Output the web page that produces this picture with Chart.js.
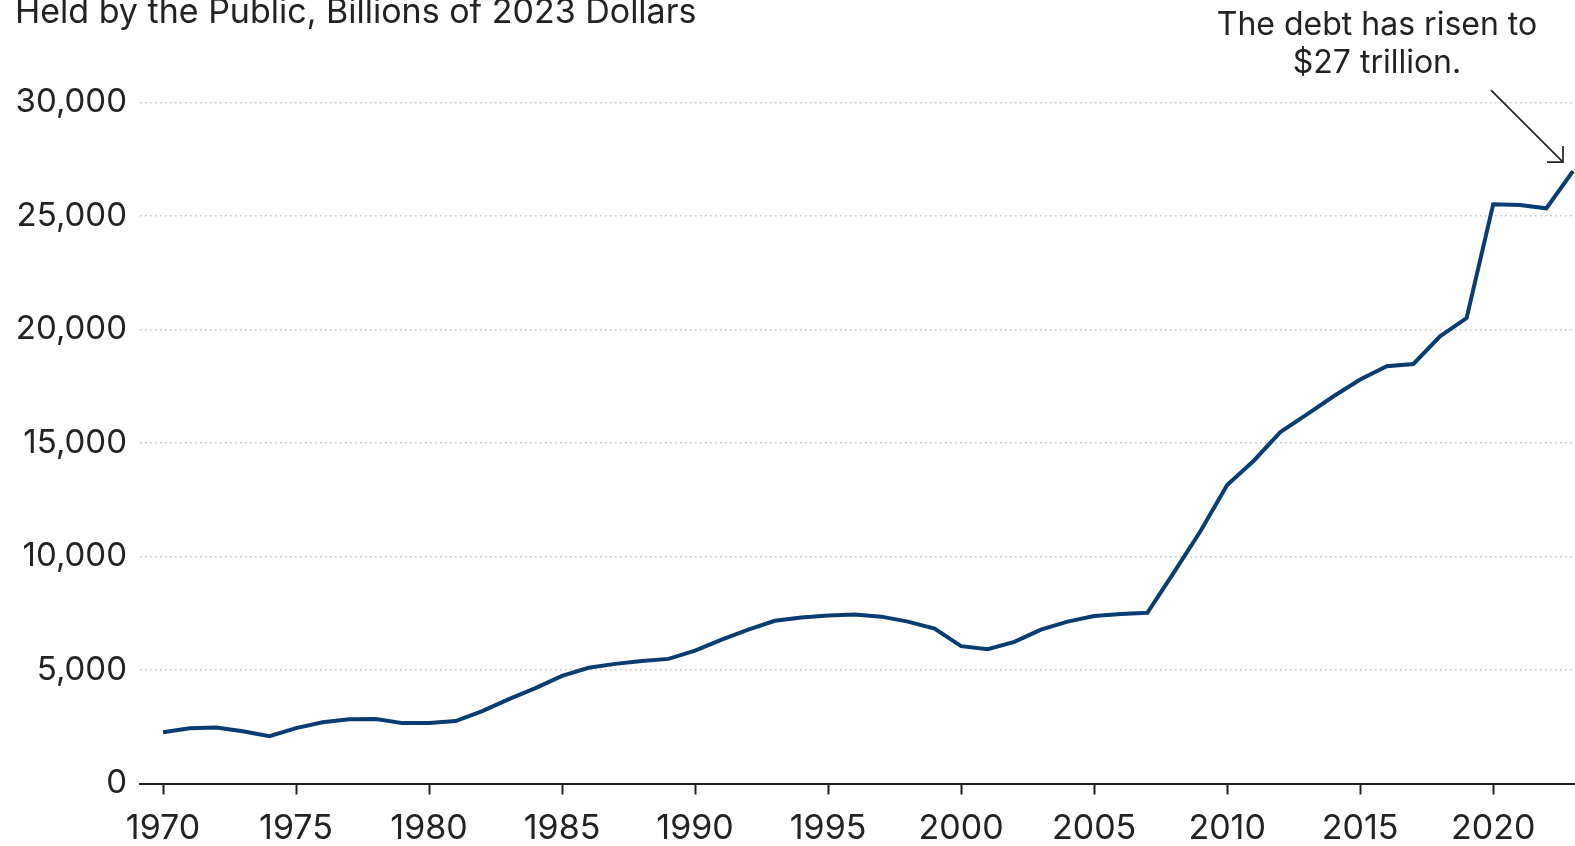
<!DOCTYPE html>
<html>
<head>
<meta charset="utf-8">
<script src="https://cdn.jsdelivr.net/npm/chart.js@4.4.0/dist/chart.umd.min.js"></script>
<style>
  html, body { margin: 0; padding: 0; background: #fff; }
  #wrap { width: 1575px; height: 846px; position: relative; }
</style>
</head>
<body>
<div id="wrap"><canvas id="debtChart"></canvas></div>
<script>
// годы и долг (млрд долларов 2023 г.)
const years = [1970, 1971, 1972, 1973, 1974, 1975, 1976, 1977, 1978, 1979,
    1980, 1981, 1982, 1983, 1984, 1985, 1986, 1987, 1988, 1989,
    1990, 1991, 1992, 1993, 1994, 1995, 1996, 1997, 1998, 1999,
    2000, 2001, 2002, 2003, 2004, 2005, 2006, 2007, 2008, 2009,
    2010, 2011, 2012, 2013, 2014, 2015, 2016, 2017, 2018, 2019,
    2020, 2021, 2022, 2023];
const debt = [2260, 2430, 2470, 2300, 2080, 2440, 2700, 2830, 2840, 2660,
    2660, 2750, 3190, 3720, 4200, 4740, 5100, 5270, 5400, 5490,
    5850, 6340, 6780, 7170, 7310, 7400, 7440, 7350, 7130, 6820,
    6050, 5920, 6240, 6780, 7130, 7380, 7470, 7520, 9300, 11120,
    13150, 14220, 15480, 16260, 17060, 17800, 18380, 18480, 19700, 20500,
    25520, 25480, 25340, 26980];
const xTicks = [1970, 1975, 1980, 1985, 1990, 1995, 2000, 2005, 2010, 2015, 2020];
const yTicks = [0, 5000, 10000, 15000, 20000, 25000, 30000];

const titleText = 'Held by the Public, Billions of 2023 Dollars';
const noteLines = ['The debt has risen to', '$27 trillion.'];

const FONT = 'Inter, "Noto Sans", sans-serif';

// Заголовок, подпись и стрелка
const notesPlugin = {
    id: 'notes',
    afterDraw(chart) {
        const ctx = chart.ctx;
        const xs = chart.scales.x;
        const ys = chart.scales.y;
        ctx.save();
        ctx.fillStyle = '#222';
        ctx.font = '34px ' + FONT;
        ctx.textAlign = 'left';
        ctx.textBaseline = 'alphabetic';
        ctx.fillText(titleText, 15, 23);

        ctx.font = '32px ' + FONT;
        ctx.textAlign = 'center';
        ctx.fillText(noteLines[0], 1377, 35);
        ctx.fillText(noteLines[1], 1377, 73);

        // стрелка к последней точке
        const tx = xs.getPixelForValue(years[years.length - 1]) - 10;
        const ty = ys.getPixelForValue(debt[debt.length - 1]) - 9;
        const sx = tx - 72, sy = ty - 72;
        ctx.strokeStyle = '#222';
        ctx.lineWidth = 1.7;
        ctx.beginPath();
        ctx.moveTo(sx, sy);
        ctx.lineTo(tx, ty);
        ctx.moveTo(tx - 16, ty);
        ctx.lineTo(tx, ty);
        ctx.lineTo(tx, ty - 16);
        ctx.stroke();
        ctx.restore();
    }
};

const ctx = document.getElementById('debtChart').getContext('2d');
new Chart(ctx, {
    type: 'line',
    data: {
        datasets: [{
            data: years.map((y, i) => ({ x: y, y: debt[i] })),
            borderColor: '#073d72',
            borderWidth: 4,
            pointRadius: 0,
            tension: 0,
            fill: false
        }]
    },
    options: {
        responsive: true,
        maintainAspectRatio: false,
        animation: false,
        events: [],
        layout: { padding: { top: 102.5, left: 0, right: 0, bottom: 0 } },
        plugins: {
            legend: { display: false },
            tooltip: { enabled: false }
        },
        scales: {
            x: {
                type: 'linear',
                min: 1969.135,
                max: 2023.075,
                afterBuildTicks: scale => { scale.ticks = xTicks.map(v => ({ value: v })); },
                afterFit: scale => { scale.height = 62.5; },
                ticks: {
                    autoSkip: false,
                    maxRotation: 0,
                    padding: 14,
                    color: '#222',
                    font: { family: FONT, size: 34 },
                    callback: v => String(v)
                },
                grid: {
                    drawOnChartArea: false,
                    drawTicks: true,
                    tickLength: 11,
                    tickColor: '#222',
                    tickWidth: 2
                },
                border: { display: true, color: '#222', width: 2 }
            },
            y: {
                min: 0,
                max: 30000,
                afterBuildTicks: scale => { scale.ticks = yTicks.map(v => ({ value: v })); },
                afterFit: scale => { scale.width = 140; },
                ticks: {
                    padding: 13,
                    color: '#222',
                    font: { family: FONT, size: 33 },
                    callback: v => v.toLocaleString('en-US')
                },
                grid: {
                    drawTicks: false,
                    color: '#c4c4c4',
                    lineWidth: 1.5
                },
                border: { display: false, dash: [1.5, 3.5] }
            }
        }
    },
    plugins: [notesPlugin]
});
</script>
</body>
</html>
